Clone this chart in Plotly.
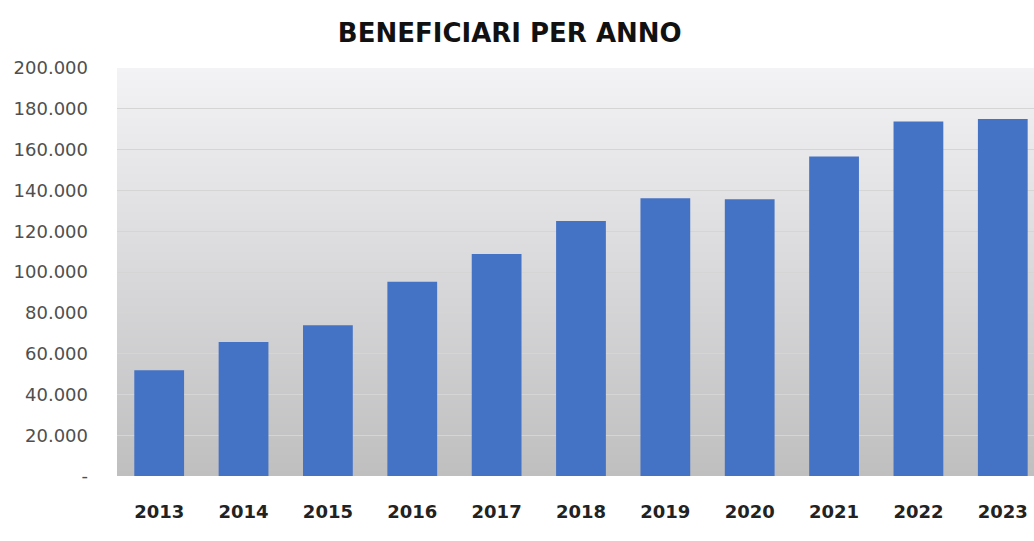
import base64
import struct
import zlib

import plotly.graph_objects as go

# Beneficiaries per year
anni = ["2013", "2014", "2015", "2016", "2017", "2018", "2019", "2020", "2021", "2022", "2023"]
beneficiari = [51800, 65700, 73900, 95200, 108800, 125000, 136100, 135700, 156600, 173800, 175000]

tick_valori = [0, 20000, 40000, 60000, 80000, 100000, 120000, 140000, 160000, 180000, 200000]
tick_testi = ["-", "20.000", "40.000", "60.000", "80.000", "100.000", "120.000",
              "140.000", "160.000", "180.000", "200.000"]

BAR_COLOR = "#4472C4"
FONT = "DejaVu Sans"


def gradient_png(top, bottom, height=256):
    """1-pixel-wide vertical gradient encoded as a PNG data URI."""
    rows = b""
    for i in range(height):
        t = i / (height - 1)
        px = bytes(round(top[k] + (bottom[k] - top[k]) * t) for k in range(3))
        rows += b"\x00" + px

    def chunk(tag, data):
        c = tag + data
        return struct.pack(">I", len(data)) + c + struct.pack(">I", zlib.crc32(c) & 0xFFFFFFFF)

    png = b"\x89PNG\r\n\x1a\n"
    png += chunk(b"IHDR", struct.pack(">IIBBBBB", 1, height, 8, 2, 0, 0, 0))
    png += chunk(b"IDAT", zlib.compress(rows))
    png += chunk(b"IEND", b"")
    return "data:image/png;base64," + base64.b64encode(png).decode()


fig = go.Figure()
fig.add_trace(go.Bar(
    x=list(range(len(anni))),
    y=beneficiari,
    marker=dict(color=BAR_COLOR, line=dict(width=0)),
    hovertemplate="%{customdata}: %{y:,}<extra></extra>",
    customdata=anni,
))

fig.update_layout(
    width=1034, height=541,
    margin=dict(l=117, r=0, t=68, b=65),
    paper_bgcolor="white",
    plot_bgcolor="rgba(0,0,0,0)",
    bargap=0.41,
    showlegend=False,
    images=[dict(
        source=gradient_png((243, 243, 246), (191, 191, 192)),
        xref="paper", yref="paper", x=0, y=1, sizex=1, sizey=1,
        xanchor="left", yanchor="top", sizing="stretch", layer="below",
    )],
    title=dict(
        text="<b>BENEFICIARI PER ANNO</b>",
        x=0.493, xref="container", xanchor="center",
        y=0.94, yref="container", yanchor="middle",
        font=dict(family=FONT, size=26, color="#111111"),
    ),
    xaxis=dict(
        range=[-0.5, 10.37],
        tickvals=list(range(len(anni))),
        ticktext=[f"<b>{a}</b>" for a in anni],
        tickfont=dict(family=FONT, size=18, color="#222222"),
        showgrid=False, zeroline=False, showline=False,
        ticks="", ticklabelstandoff=23,
    ),
    yaxis=dict(
        range=[0, 200000],
        tickvals=tick_valori,
        ticktext=tick_testi,
        tickfont=dict(family=FONT, size=18, color="#4f4f4f"),
        showgrid=True, gridcolor="#d5d5d5", gridwidth=1,
        zeroline=False, showline=False,
        ticks="", ticklabelstandoff=28,
    ),
)

fig.write_html("out.html")
